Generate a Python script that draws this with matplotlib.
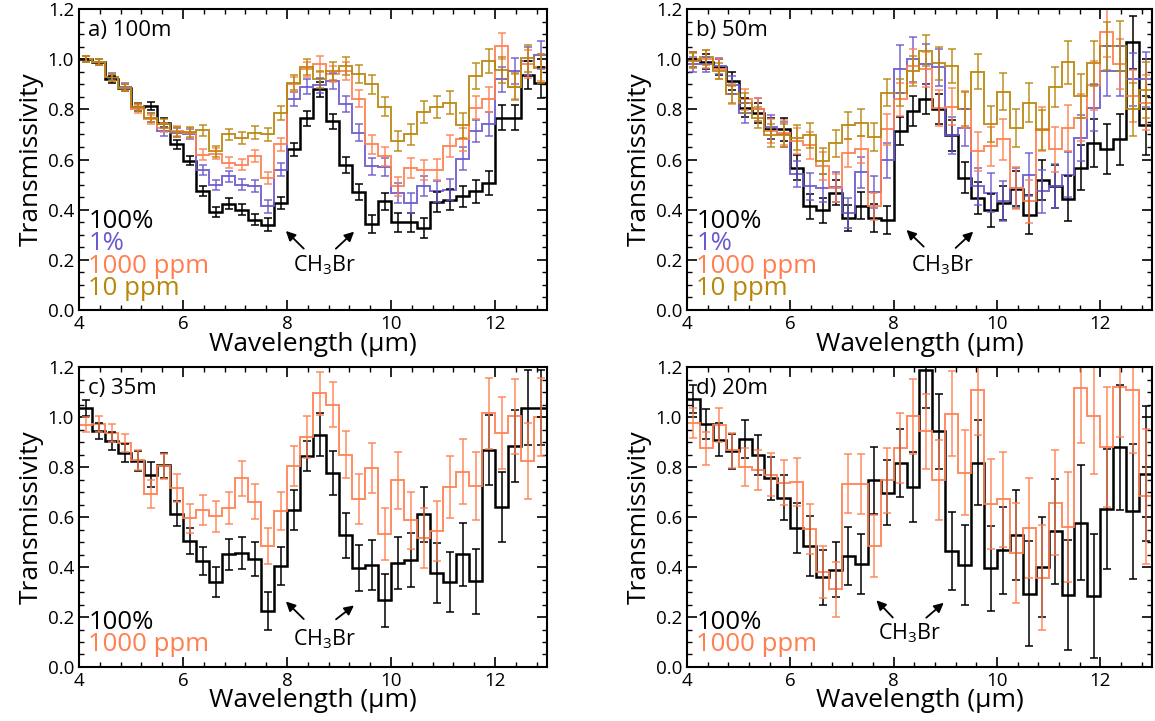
import numpy as np
import matplotlib
matplotlib.use("Agg")
import matplotlib.pyplot as plt
from matplotlib.ticker import MultipleLocator

plt.rcParams['font.family'] = ['Open Sans', 'DejaVu Sans']
plt.rcParams['mathtext.default'] = 'regular'

# wavelength bins (micron), 0.25 um wide from 4 to 13
wl_edges = np.linspace(4.0, 13.0, 37)
wl = 0.5 * (wl_edges[:-1] + wl_edges[1:])

# ---- a) 100m ----
a_100 = [1.0, 0.987, 0.92, 0.887, 0.81, 0.813, 0.747, 0.66, 0.596, 0.473, 0.39, 0.424,
         0.40, 0.36, 0.34, 0.427, 0.64, 0.765, 0.88, 0.753, 0.58, 0.47, 0.344, 0.433,
         0.35, 0.35, 0.327, 0.43, 0.44, 0.453, 0.473, 0.507, 0.767, 0.767, 0.936, 0.907]
a_1pct = [1.0, 0.99, 0.93, 0.89, 0.807, 0.767, 0.713, 0.707, 0.70, 0.56, 0.50, 0.533,
          0.50, 0.496, 0.413, 0.56, 0.84, 0.89, 0.896, 0.913, 0.82, 0.707, 0.573, 0.57,
          0.467, 0.427, 0.493, 0.473, 0.48, 0.603, 0.713, 0.74, 0.92, 0.953, 0.993, 1.016]
a_1000 = [1.0, 0.99, 0.928, 0.887, 0.80, 0.76, 0.727, 0.713, 0.707, 0.62, 0.624, 0.587,
          0.58, 0.613, 0.527, 0.66, 0.90, 0.96, 0.98, 0.94, 0.953, 0.843, 0.66, 0.613,
          0.493, 0.567, 0.557, 0.56, 0.653, 0.68, 0.807, 0.84, 1.053, 0.89, 0.98, 0.967]
a_10 = [1.0, 0.987, 0.928, 0.887, 0.81, 0.767, 0.743, 0.71, 0.71, 0.717, 0.633, 0.70,
        0.687, 0.707, 0.70, 0.787, 0.907, 0.97, 0.92, 0.953, 0.973, 0.94, 0.90, 0.81,
        0.673, 0.70, 0.79, 0.81, 0.827, 0.736, 0.933, 0.993, 0.957, 0.89, 1.003, 0.963]
a_100_err = [0.012, 0.012, 0.013, 0.014, 0.015, 0.017, 0.018, 0.018, 0.018, 0.02, 0.02, 0.022,
             0.022, 0.022, 0.025, 0.025, 0.027, 0.03, 0.03, 0.03, 0.032, 0.032, 0.035, 0.035,
             0.037, 0.037, 0.04, 0.04, 0.042, 0.042, 0.045, 0.048, 0.05, 0.05, 0.055, 0.06]
a_1pct_err = [0.012, 0.012, 0.013, 0.014, 0.015, 0.017, 0.018, 0.018, 0.02, 0.02, 0.02, 0.022,
              0.022, 0.024, 0.025, 0.027, 0.028, 0.03, 0.03, 0.03, 0.032, 0.034, 0.035, 0.036,
              0.04, 0.04, 0.04, 0.042, 0.042, 0.045, 0.045, 0.048, 0.05, 0.052, 0.055, 0.057]
a_1000_err = [0.012, 0.012, 0.013, 0.014, 0.016, 0.017, 0.018, 0.02, 0.02, 0.02, 0.021, 0.022,
              0.023, 0.024, 0.025, 0.027, 0.03, 0.03, 0.032, 0.032, 0.034, 0.035, 0.036, 0.037,
              0.038, 0.04, 0.04, 0.042, 0.043, 0.045, 0.047, 0.05, 0.053, 0.05, 0.055, 0.055]
a_10_err = [0.012, 0.012, 0.013, 0.015, 0.016, 0.018, 0.019, 0.02, 0.021, 0.022, 0.022, 0.023,
            0.024, 0.025, 0.026, 0.028, 0.03, 0.032, 0.033, 0.034, 0.035, 0.036, 0.037, 0.038,
            0.04, 0.042, 0.043, 0.045, 0.047, 0.05, 0.05, 0.047, 0.05, 0.053, 0.055, 0.058]

# ---- b) 50m ----
b_100 = [1.0, 0.99, 0.967, 0.913, 0.807, 0.787, 0.723, 0.72, 0.567, 0.413, 0.397, 0.467,
         0.367, 0.416, 0.367, 0.36, 0.713, 0.793, 0.84, 0.80, 0.696, 0.527, 0.447, 0.397,
         0.427, 0.483, 0.38, 0.52, 0.493, 0.443, 0.567, 0.667, 0.643, 0.68, 1.067, 0.736]
b_1pct = [0.98, 0.98, 0.973, 0.896, 0.787, 0.80, 0.73, 0.70, 0.544, 0.493, 0.487, 0.49,
          0.387, 0.55, 0.47, 0.597, 0.96, 1.0, 0.98, 0.967, 0.696, 0.727, 0.493, 0.467,
          0.433, 0.487, 0.54, 0.473, 0.493, 0.54, 0.687, 0.807, 0.953, 0.953, 0.92, 0.92]
b_1000 = [1.0, 1.0, 0.96, 0.86, 0.84, 0.80, 0.713, 0.707, 0.673, 0.656, 0.573, 0.487,
          0.627, 0.64, 0.413, 0.72, 0.84, 0.973, 0.96, 0.807, 0.81, 0.80, 0.633, 0.653,
          0.68, 0.487, 0.433, 0.72, 0.64, 0.727, 0.767, 0.896, 1.11, 0.98, 0.853, 0.827]
b_10 = [0.993, 1.007, 0.953, 0.86, 0.824, 0.767, 0.696, 0.696, 0.687, 0.696, 0.593, 0.664,
        0.736, 0.747, 0.69, 0.867, 0.867, 0.953, 1.033, 0.983, 0.973, 0.803, 0.95, 0.74,
        0.87, 0.727, 0.827, 0.717, 0.89, 0.987, 0.853, 0.984, 1.053, 1.053, 0.80, 0.877]
b_100_err = [0.03, 0.03, 0.032, 0.035, 0.037, 0.04, 0.042, 0.045, 0.05, 0.05, 0.05, 0.05,
             0.05, 0.055, 0.055, 0.055, 0.057, 0.06, 0.06, 0.06, 0.062, 0.062, 0.065, 0.065,
             0.067, 0.07, 0.077, 0.08, 0.085, 0.09, 0.09, 0.095, 0.1, 0.1, 0.107, 0.117]
b_1pct_err = [0.03, 0.03, 0.033, 0.035, 0.04, 0.045, 0.048, 0.05, 0.052, 0.055, 0.057, 0.06,
              0.06, 0.062, 0.065, 0.07, 0.095, 0.09, 0.08, 0.075, 0.072, 0.075, 0.075, 0.078,
              0.08, 0.08, 0.085, 0.085, 0.088, 0.09, 0.092, 0.095, 0.1, 0.1, 0.105, 0.11]
b_1000_err = [0.03, 0.035, 0.04, 0.04, 0.042, 0.045, 0.048, 0.05, 0.052, 0.055, 0.055, 0.055,
              0.055, 0.055, 0.053, 0.063, 0.065, 0.068, 0.07, 0.072, 0.074, 0.075, 0.077, 0.078,
              0.08, 0.083, 0.085, 0.088, 0.09, 0.092, 0.095, 0.098, 0.1, 0.1, 0.105, 0.11]
b_10_err = [0.03, 0.03, 0.033, 0.035, 0.04, 0.042, 0.045, 0.047, 0.05, 0.05, 0.052, 0.053,
            0.055, 0.055, 0.055, 0.055, 0.055, 0.06, 0.062, 0.065, 0.067, 0.068, 0.07, 0.072,
            0.074, 0.076, 0.078, 0.08, 0.08, 0.085, 0.088, 0.09, 0.095, 0.1, 0.105, 0.11]

# ---- c) 35m ----
c_100 = [1.037, 0.944, 0.904, 0.857, 0.824, 0.77, 0.808, 0.613, 0.504, 0.424, 0.341, 0.451,
         0.457, 0.431, 0.224, 0.404, 0.627, 0.846, 0.93, 0.777, 0.528, 0.397, 0.408, 0.267,
         0.417, 0.427, 0.611, 0.377, 0.341, 0.451, 0.344, 0.867, 0.64, 0.884, 1.037, 1.037]
c_1000 = [0.97, 0.973, 0.937, 0.897, 0.827, 0.693, 0.804, 0.717, 0.595, 0.627, 0.604, 0.637,
          0.755, 0.661, 0.484, 0.624, 0.804, 0.92, 1.095, 1.05, 0.85, 0.671, 0.795, 0.533,
          0.747, 0.587, 0.517, 0.544, 0.72, 0.781, 0.724, 1.015, 0.937, 1.004, 0.824, 1.0]
c_100_err = [0.031, 0.033, 0.035, 0.037, 0.04, 0.049, 0.05, 0.05, 0.052, 0.055, 0.06, 0.062,
             0.065, 0.068, 0.077, 0.075, 0.08, 0.06, 0.085, 0.088, 0.09, 0.092, 0.1, 0.105,
             0.105, 0.108, 0.11, 0.12, 0.12, 0.125, 0.13, 0.14, 0.14, 0.145, 0.15, 0.15]
c_1000_err = [0.03, 0.033, 0.035, 0.037, 0.04, 0.055, 0.05, 0.055, 0.058, 0.06, 0.062, 0.065,
              0.07, 0.07, 0.072, 0.075, 0.08, 0.085, 0.087, 0.09, 0.095, 0.1, 0.1, 0.105,
              0.113, 0.115, 0.12, 0.12, 0.125, 0.13, 0.135, 0.143, 0.145, 0.15, 0.153, 0.155]

# ---- d) 20m ----
d_100 = [1.073, 0.973, 0.91, 0.864, 0.913, 0.848, 0.755, 0.677, 0.555, 0.484, 0.36, 0.39,
         0.444, 0.413, 0.747, 0.697, 0.817, 0.72, 1.187, 0.944, 0.464, 0.41, 0.817, 0.395,
         0.467, 0.528, 0.293, 0.40, 0.544, 0.288, 0.577, 0.284, 0.631, 0.88, 0.624, 0.773]
d_1000 = [0.977, 0.875, 0.968, 0.867, 0.80, 0.79, 0.77, 0.737, 0.741, 0.551, 0.381, 0.311,
          0.733, 0.731, 0.484, 0.747, 0.877, 1.004, 0.944, 0.747, 1.013, 0.777, 1.107, 0.653,
          0.671, 0.457, 0.557, 0.357, 0.657, 0.56, 1.117, 1.004, 0.88, 1.12, 1.107, 0.684]
d_100_err = [0.057, 0.06, 0.065, 0.07, 0.077, 0.08, 0.085, 0.09, 0.1, 0.12, 0.11, 0.11,
             0.115, 0.12, 0.133, 0.13, 0.135, 0.14, 0.15, 0.15, 0.155, 0.16, 0.17, 0.17,
             0.175, 0.18, 0.21, 0.2, 0.21, 0.22, 0.23, 0.247, 0.24, 0.25, 0.27, 0.27]
d_1000_err = [0.06, 0.065, 0.068, 0.07, 0.075, 0.08, 0.085, 0.09, 0.095, 0.1, 0.105, 0.11,
              0.118, 0.12, 0.125, 0.13, 0.14, 0.15, 0.15, 0.16, 0.17, 0.17, 0.18, 0.18,
              0.19, 0.2, 0.2, 0.21, 0.21, 0.22, 0.22, 0.23, 0.24, 0.2, 0.25, 0.27]

c_black = 'black'
c_blue = '#6a5acd'
c_orange = '#ff7f50'
c_gold = '#b8860b'


def draw_series(ax, vals, errs, color, lw, alpha):
    ax.stairs(vals, wl_edges, color=color, lw=lw, alpha=alpha, baseline=None)
    ax.errorbar(wl, vals, yerr=errs, fmt='none', ecolor=color, elinewidth=1.1,
                capsize=3, capthick=1.1, alpha=alpha)


def style_axes(ax, title):
    ax.set_xlim(4, 13)
    ax.set_ylim(0, 1.2)
    ax.xaxis.set_major_locator(MultipleLocator(2))
    ax.xaxis.set_minor_locator(MultipleLocator(0.4))
    ax.yaxis.set_minor_locator(MultipleLocator(0.05))
    ax.set_yticks(np.arange(0, 1.21, 0.2))
    ax.set_yticklabels(['%.1f' % v for v in np.arange(0, 1.21, 0.2)])
    ax.tick_params(which='both', direction='in', top=True, right=True, labelsize=13.5)
    ax.tick_params(which='major', length=7, width=1.2)
    ax.tick_params(which='minor', length=3.5, width=1.0)
    for s in ax.spines.values():
        s.set_linewidth(1.5)
    ax.set_xlabel('Wavelength (μm)', fontsize=19, labelpad=-1)
    ax.set_ylabel('Transmissivity', fontsize=19, labelpad=3)
    ax.text(0.02, 0.93, title, transform=ax.transAxes, fontsize=16, va='center')


def labels(ax, names, colors, y0):
    for i, (n, col) in enumerate(zip(names, colors)):
        ax.text(0.02, y0 - 0.074 * i, n, color=col, transform=ax.transAxes,
                fontsize=18.5, va='center')


def ch3br(ax, left_tail, left_head, right_tail, right_head, text_xy):
    arrow = dict(arrowstyle='-|>', color='black', lw=1.3, mutation_scale=14)
    ax.annotate('', xy=left_head, xytext=left_tail, arrowprops=arrow)
    ax.annotate('', xy=right_head, xytext=right_tail, arrowprops=arrow)
    ax.text(text_xy[0], text_xy[1], 'CH$_3$Br', fontsize=15.5, ha='center', va='center')


fig = plt.figure(figsize=(11.55, 7.21), dpi=100)
ax_a = fig.add_axes([0.0684, 0.570, 0.4052, 0.4175])
ax_b = fig.add_axes([0.5948, 0.570, 0.4026, 0.4175])
ax_c = fig.add_axes([0.0684, 0.0749, 0.4052, 0.416])
ax_d = fig.add_axes([0.5948, 0.0749, 0.4026, 0.416])

# panel a
draw_series(ax_a, a_100, a_100_err, c_black, 1.8, 1.0)
draw_series(ax_a, a_1pct, a_1pct_err, c_blue, 1.4, 0.9)
draw_series(ax_a, a_1000, a_1000_err, c_orange, 1.4, 0.9)
draw_series(ax_a, a_10, a_10_err, c_gold, 1.4, 0.9)
style_axes(ax_a, 'a) 100m')
labels(ax_a, ['100%', '1%', '1000 ppm', '10 ppm'], [c_black, c_blue, c_orange, c_gold], 0.294)
ch3br(ax_a, (8.36, 0.237), (7.94, 0.323), (8.90, 0.237), (9.33, 0.32), (8.72, 0.18))

# panel b
draw_series(ax_b, b_100, b_100_err, c_black, 1.8, 1.0)
draw_series(ax_b, b_1pct, b_1pct_err, c_blue, 1.4, 0.9)
draw_series(ax_b, b_1000, b_1000_err, c_orange, 1.4, 0.9)
draw_series(ax_b, b_10, b_10_err, c_gold, 1.4, 0.9)
style_axes(ax_b, 'b) 50m')
labels(ax_b, ['100%', '1%', '1000 ppm', '10 ppm'], [c_black, c_blue, c_orange, c_gold], 0.294)
ch3br(ax_b, (8.62, 0.245), (8.21, 0.327), (9.16, 0.24), (9.58, 0.32), (8.95, 0.18))

# panel c
draw_series(ax_c, c_100, c_100_err, c_black, 1.8, 1.0)
draw_series(ax_c, c_1000, c_1000_err, c_orange, 1.4, 0.9)
style_axes(ax_c, 'c) 35m')
labels(ax_c, ['100%', '1000 ppm'], [c_black, c_orange], 0.15)
ch3br(ax_c, (8.36, 0.184), (7.94, 0.27), (8.90, 0.184), (9.33, 0.253), (8.72, 0.112))

# panel d
draw_series(ax_d, d_100, d_100_err, c_black, 1.8, 1.0)
draw_series(ax_d, d_1000, d_1000_err, c_orange, 1.4, 0.9)
style_axes(ax_d, 'd) 20m')
labels(ax_d, ['100%', '1000 ppm'], [c_black, c_orange], 0.15)
ch3br(ax_d, (8.02, 0.19), (7.63, 0.275), (8.59, 0.19), (9.01, 0.264), (8.30, 0.134))

fig.savefig('out.png', dpi=100)
